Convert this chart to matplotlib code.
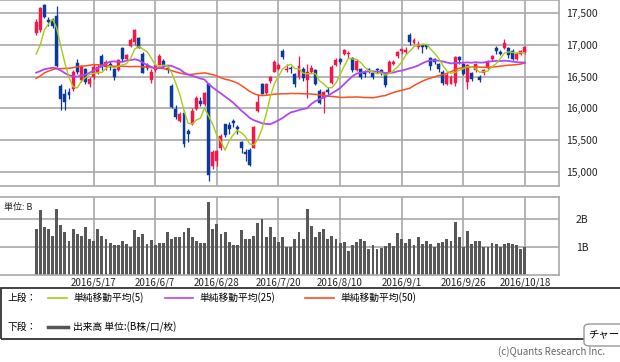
import matplotlib
matplotlib.use("Agg")
import matplotlib.pyplot as plt
from matplotlib.patches import Rectangle, FancyBboxPatch
from matplotlib.lines import Line2D
import numpy as np
import pandas as pd

plt.rcParams['font.family'] = ['Noto Sans CJK JP', 'DejaVu Sans']

# --- データ (2016/4/21 - 2016/10/18, 日経平均) ---
dates = ["4/21", "4/22", "4/25", "4/26", "4/27", "4/28", "5/2", "5/6", "5/9", "5/10",
         "5/11", "5/12", "5/13", "5/16", "5/17", "5/18", "5/19", "5/20", "5/23", "5/24",
         "5/25", "5/26", "5/27", "5/30", "5/31", "6/1", "6/2", "6/3", "6/6", "6/7",
         "6/8", "6/9", "6/10", "6/13", "6/14", "6/15", "6/16", "6/17", "6/20", "6/21",
         "6/22", "6/23", "6/24", "6/27", "6/28", "6/29", "6/30", "7/1", "7/4", "7/5",
         "7/6", "7/7", "7/8", "7/11", "7/12", "7/13", "7/14", "7/15", "7/19", "7/20",
         "7/21", "7/22", "7/25", "7/26", "7/27", "7/28", "7/29", "8/1", "8/2", "8/3",
         "8/4", "8/5", "8/8", "8/9", "8/10", "8/12", "8/15", "8/16", "8/17", "8/18",
         "8/19", "8/22", "8/23", "8/24", "8/25", "8/26", "8/29", "8/30", "8/31", "9/1",
         "9/2", "9/5", "9/6", "9/7", "9/8", "9/9", "9/12", "9/13", "9/14", "9/15",
         "9/16", "9/20", "9/21", "9/23", "9/26", "9/27", "9/28", "9/29", "9/30", "10/3",
         "10/4", "10/5", "10/6", "10/7", "10/11", "10/12", "10/13", "10/14", "10/17", "10/18"]

opens = [17190, 17230, 17620, 17390, 17390, 17450, 16350, 16220, 16260, 16300,
         16720, 16450, 16620, 16380, 16500, 16560, 16820, 16650, 16700, 16620,
         16600, 16950, 16780, 16980, 17040, 17100, 16850, 16680, 16450, 16600,
         16690, 16750, 16640, 16350, 15990, 15800, 15930, 15640, 15760, 15990,
         16110, 16070, 16390, 15100, 15170, 15380, 15750, 15740, 15800, 15710,
         15470, 15320, 15350, 15380, 15960, 16390, 16240, 16430, 16580, 16620,
         16900, 16600, 16640, 16540, 16490, 16620, 16450, 16570, 16600, 16280,
         16160, 16290, 16400, 16680, 16780, 16850, 16850, 16800, 16600, 16620,
         16580, 16620, 16560, 16620, 16600, 16540, 16560, 16700, 16820, 16900,
         16880, 17150, 17030, 16960, 17010, 16990, 16800, 16770, 16700, 16580,
         16380, 16390, 16400, 16810, 16700, 16420, 16560, 16600, 16500, 16550,
         16640, 16770, 16950, 16890, 16950, 16950, 16900, 16780, 16850, 16880]

highs = [17400, 17590, 17640, 17440, 17420, 17610, 16380, 16300, 16320, 16600,
         16770, 16680, 16640, 16500, 16700, 16700, 16850, 16760, 16740, 16640,
         16780, 16960, 16850, 17100, 17250, 17130, 16880, 16720, 16620, 16700,
         16850, 16780, 16680, 16380, 16060, 15950, 15970, 15680, 16000, 16200,
         16180, 16250, 16400, 15340, 15340, 15600, 15760, 15780, 15840, 15740,
         15490, 15360, 15370, 15720, 16230, 16400, 16400, 16510, 16760, 16720,
         16940, 16700, 16660, 16560, 16820, 16650, 16700, 16680, 16620, 16300,
         16280, 16330, 16680, 16790, 16800, 16940, 16900, 16810, 16780, 16640,
         16600, 16640, 16580, 16640, 16620, 16550, 16760, 16760, 16900, 16940,
         16960, 17190, 17110, 17060, 17020, 17010, 16810, 16800, 16720, 16600,
         16550, 16520, 16830, 16830, 16720, 16700, 16580, 16720, 16520, 16620,
         16760, 16840, 16980, 16920, 17090, 16960, 16930, 16880, 16920, 16980]

lows = [17160, 17200, 17420, 17300, 17260, 16650, 15975, 15975, 16150, 16280,
        16540, 16420, 16390, 16330, 16470, 16540, 16600, 16600, 16600, 16440,
        16590, 16740, 16760, 16960, 16990, 16950, 16560, 16600, 16400, 16580,
        16680, 16640, 16560, 16000, 15830, 15780, 15395, 15470, 15740, 15980,
        16030, 16040, 14864, 15050, 15100, 15350, 15550, 15600, 15700, 15600,
        15300, 15180, 15100, 15370, 15950, 16220, 16230, 16400, 16570, 16600,
        16780, 16570, 16560, 16340, 16460, 16430, 16170, 16560, 16360, 16070,
        15920, 16220, 16390, 16660, 16700, 16840, 16800, 16570, 16590, 16460,
        16500, 16560, 16460, 16560, 16520, 16330, 16550, 16680, 16800, 16850,
        16860, 17000, 17010, 16940, 16870, 16940, 16600, 16700, 16580, 16370,
        16370, 16380, 16350, 16700, 16520, 16300, 16430, 16580, 16410, 16520,
        16620, 16750, 16860, 16840, 16930, 16800, 16760, 16760, 16840, 16860]

closes = [17363, 17572, 17439, 17353, 17290, 16666, 16147, 16106, 16216, 16565,
          16579, 16646, 16412, 16466, 16652, 16644, 16646, 16736, 16654, 16498,
          16757, 16772, 16834, 17068, 17234, 16955, 16562, 16642, 16580, 16675,
          16830, 16668, 16601, 16019, 15859, 15919, 15434, 15599, 15965, 16169,
          16065, 16238, 14952, 15309, 15323, 15566, 15575, 15682, 15775, 15669,
          15378, 15276, 15106, 15708, 16095, 16231, 16385, 16497, 16723, 16681,
          16810, 16627, 16620, 16383, 16664, 16476, 16569, 16635, 16391, 16083,
          16254, 16254, 16650, 16764, 16735, 16919, 16869, 16596, 16745, 16486,
          16545, 16598, 16497, 16597, 16555, 16360, 16737, 16725, 16887, 16926,
          16925, 17037, 17081, 17012, 16958, 16965, 16672, 16729, 16614, 16405,
          16519, 16492, 16807, 16754, 16544, 16683, 16465, 16693, 16449, 16598,
          16735, 16819, 16899, 16860, 17024, 16840, 16774, 16856, 16900, 16963]

# 表示期間より前の終値 (2/10 - 4/20), 移動平均の計算用
prior_closes = [15713, 14952, 16022, 16054, 15836, 16196, 15967, 16111, 16053, 15916,
                16140, 16188, 16027, 16086, 16747, 16960, 17015, 17015, 16784, 16642,
                16852, 16939, 17233, 17117, 16975, 16936, 16725, 17049, 17001, 16892,
                17003, 17135, 17103, 16879, 16759, 16164, 16123, 15733, 15716, 15750,
                15822, 15751, 15929, 16382, 16912, 16848, 16276, 16874, 16906]

# 出来高 (B株)
volume = [1.66, 2.31, 1.72, 1.63, 1.41, 2.34, 1.80, 1.52, 1.20, 1.66,
          1.45, 1.40, 1.72, 1.27, 1.20, 1.66, 1.41, 1.27, 1.16, 1.08,
          1.08, 1.23, 1.12, 1.01, 1.59, 1.34, 1.45, 1.12, 1.24, 1.08,
          1.13, 1.16, 1.55, 1.27, 1.34, 1.37, 1.55, 1.69, 1.34, 1.23,
          1.13, 1.13, 2.61, 1.63, 1.81, 1.47, 1.52, 1.19, 1.08, 1.08,
          1.59, 1.28, 1.30, 1.41, 1.87, 1.99, 1.37, 1.72, 1.34, 1.19,
          1.34, 1.01, 1.01, 1.30, 1.54, 1.27, 2.37, 1.76, 1.34, 1.55,
          1.63, 1.30, 1.41, 1.28, 1.16, 1.19, 0.84, 1.08, 1.19, 1.30,
          1.23, 0.94, 1.08, 0.92, 0.95, 1.05, 1.16, 1.05, 1.51, 1.30,
          1.16, 1.27, 1.06, 1.34, 1.12, 1.23, 1.12, 1.01, 1.16, 1.19,
          1.27, 1.23, 1.90, 1.37, 1.01, 1.58, 1.12, 1.23, 1.23, 1.01,
          1.01, 1.16, 1.12, 1.01, 1.12, 1.16, 1.12, 1.08, 0.94, 1.00]

tick_dates = ["5/17", "6/7", "6/28", "7/20", "8/10", "9/1", "9/26", "10/18"]
price_ticks = [15000, 15500, 16000, 16500, 17000, 17500]

# 色
UP = "#f5174a"
DOWN = "#0c3a9c"
MA5_C = "#a5cc18"
MA25_C = "#b048f2"
MA50_C = "#ff4d1f"
GRID = "#a8a8a8"
VOL_C = "#585858"

n = len(closes)
x = np.arange(n)
o = np.array(opens, dtype=float)
c = np.array(closes, dtype=float)
h = np.array(highs, dtype=float)
l = np.array(lows, dtype=float)

# 移動平均
allc = pd.Series(prior_closes + closes, dtype=float)
ma5 = allc.rolling(5).mean().values[-n:]
ma25 = allc.rolling(25).mean().values[-n:]
ma50 = allc.rolling(50).mean().values[-n:]

W, H = 620, 362
fig = plt.figure(figsize=(W / 100, H / 100), dpi=100)

def fx(px):
    return px / W

def fy(py):
    return 1 - py / H

x0, x1 = -8.8, 127.3
ax = fig.add_axes([fx(0), fy(185.5), fx(559), fy(0) - fy(185.5)])
axv = fig.add_axes([fx(0), fy(275), fx(559), fy(197) - fy(275)])

tick_idx = [dates.index(d) for d in tick_dates]

for a in (ax, axv):
    a.set_xlim(x0, x1)
    for s in a.spines.values():
        s.set_color(GRID)
        s.set_linewidth(1.2)
    a.spines['left'].set_visible(False)
    for t in tick_idx:
        a.axvline(t, color=GRID, lw=1.2, zorder=0)

# --- 上段: ローソク足 ---
ax.set_ylim(14788, 17704)
for p in price_ticks:
    ax.axhline(p, color=GRID, lw=1.2, zorder=0)

up = c >= o
cols = np.where(up, UP, DOWN)
ax.vlines(x, l, h, colors=cols, lw=0.9, zorder=2)
body = np.maximum(np.abs(c - o), 8)
ax.bar(x, body, bottom=np.minimum(o, c), width=0.72, color=cols, edgecolor=cols,
       linewidth=0.3, zorder=3)

ax.plot(x, ma50, color=MA50_C, lw=1.1, zorder=4)
ax.plot(x, ma25, color=MA25_C, lw=1.3, zorder=4)
ax.plot(x, ma5, color=MA5_C, lw=1.0, zorder=5)

ax.yaxis.tick_right()
ax.set_yticks(price_ticks)
ax.set_yticklabels([f"{p:,}" for p in price_ticks], fontsize=7.5, color="#222222")
ax.tick_params(axis='y', length=0, pad=5)
ax.set_xticks([])

# --- 下段: 出来高 ---
axv.set_ylim(0, 2.786)
for v in (1, 2):
    axv.axhline(v, color=GRID, lw=1.2, zorder=0)
axv.bar(x, volume, width=0.7, color=VOL_C, zorder=2)
axv.yaxis.tick_right()
axv.set_yticks([1, 2])
axv.set_yticklabels(["1B", "2B"], fontsize=7.5, color="#222222")
axv.tick_params(axis='y', length=0, pad=12)
axv.set_xticks(tick_idx)
axv.set_xticklabels(["2016/" + d for d in tick_dates], fontsize=7, color="#222222")
axv.tick_params(axis='x', length=0, pad=2)
axv.text(0.008, 0.86, "単位: B", transform=axv.transAxes, fontsize=6.5,
         color="#222222", va="center")

# --- 凡例 ---
fig.patches.append(Rectangle((fx(0.5), fy(339)), fx(640), fy(288) - fy(339),
                             transform=fig.transFigure, fill=False,
                             edgecolor="#333333", lw=1.3))
ty1, ty2 = fy(298), fy(327)
fig.text(fx(7), ty1, "上段：", fontsize=7, va="center")
fig.text(fx(7), ty2, "下段：", fontsize=7, va="center")
items = [(48, 67, MA5_C, "単純移動平均(5)"),
         (165, 193, MA25_C, "単純移動平均(25)"),
         (305, 334, MA50_C, "単純移動平均(50)")]
for a0, a1, col, lab in items:
    fig.lines.append(Line2D([fx(a0), fx(a1)], [ty1, ty1], transform=fig.transFigure,
                            color=col, lw=1.2))
    fig.text(fx(a1 + 6), ty1, lab, fontsize=7, va="center")
fig.lines.append(Line2D([fx(48), fx(68)], [ty2, ty2], transform=fig.transFigure,
                        color="#555555", lw=2.5))
fig.text(fx(73), ty2, "出来高 単位:(B株/口/枚)", fontsize=7, va="center")

# ボタンとクレジット
fig.patches.append(FancyBboxPatch((fx(584), fy(346)), fx(60), fy(324) - fy(346),
                                  boxstyle="round,pad=0,rounding_size=0.01",
                                  transform=fig.transFigure, facecolor="white",
                                  edgecolor="#999999", lw=1))
fig.text(fx(588), fy(335), "チャー", fontsize=7.5, va="center")
fig.text(fx(605), fy(352), "(c)Quants Research Inc.", fontsize=7, color="#666666",
         va="center", ha="right")

fig.savefig("out.png", dpi=100)
